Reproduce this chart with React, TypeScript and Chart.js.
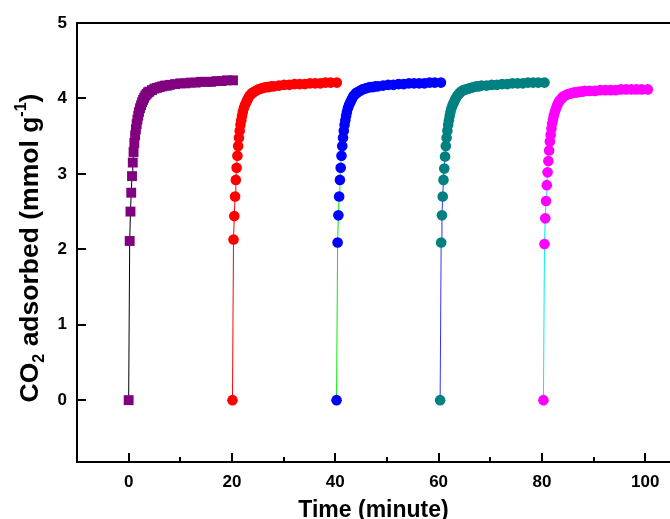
import React, { useEffect, useRef } from "react";
import { Chart, registerables } from "chart.js";

Chart.register(...registerables);

// Time within each adsorption cycle (minutes)
const cycleMinutes = [0, 0.2, 0.35, 0.5, 0.65, 0.8, 0.95, 1.1, 1.25, 1.4, 1.55, 1.7, 1.85, 2.0, 2.2, 2.4, 2.6, 2.8, 3.0, 3.25, 3.5, 3.75, 4.0, 4.5, 5, 5.5, 6, 6.5, 7, 7.5, 8, 9, 10, 11, 12, 13, 14, 15, 16, 17, 18, 19, 20.2];
// Start time of each cycle (minutes)
const cycleStarts = [0, 20.1, 40.25, 60.3, 80.3];

// CO2 adsorbed (mmol/g) per cycle
const cycle1 = [0, 2.11, 2.5, 2.75, 2.97, 3.15, 3.29, 3.41, 3.51, 3.59, 3.66, 3.72, 3.77, 3.82, 3.87, 3.91, 3.95, 3.98, 4.01, 4.04, 4.06, 4.08, 4.09, 4.11, 4.13, 4.14, 4.15, 4.16, 4.17, 4.17, 4.18, 4.19, 4.2, 4.2, 4.21, 4.21, 4.22, 4.22, 4.22, 4.23, 4.23, 4.24, 4.24];
const cycle2 = [0, 2.13, 2.44, 2.7, 2.92, 3.08, 3.24, 3.37, 3.48, 3.57, 3.65, 3.71, 3.77, 3.82, 3.87, 3.91, 3.94, 3.97, 4.0, 4.03, 4.05, 4.07, 4.08, 4.1, 4.12, 4.13, 4.14, 4.15, 4.15, 4.16, 4.16, 4.17, 4.18, 4.18, 4.19, 4.19, 4.19, 4.2, 4.2, 4.2, 4.21, 4.21, 4.21];
const cycle3 = [0, 2.09, 2.45, 2.7, 2.92, 3.08, 3.24, 3.37, 3.48, 3.57, 3.65, 3.71, 3.77, 3.82, 3.87, 3.91, 3.94, 3.97, 4.0, 4.03, 4.05, 4.07, 4.08, 4.1, 4.12, 4.13, 4.14, 4.15, 4.15, 4.16, 4.16, 4.17, 4.18, 4.18, 4.19, 4.19, 4.2, 4.2, 4.2, 4.2, 4.21, 4.21, 4.21];
const cycle4 = [0, 2.09, 2.45, 2.7, 2.92, 3.07, 3.23, 3.37, 3.48, 3.57, 3.65, 3.71, 3.77, 3.82, 3.87, 3.91, 3.94, 3.97, 4.0, 4.03, 4.05, 4.07, 4.09, 4.11, 4.12, 4.13, 4.14, 4.15, 4.16, 4.16, 4.17, 4.17, 4.18, 4.18, 4.19, 4.19, 4.2, 4.2, 4.2, 4.21, 4.21, 4.21, 4.21];
const cycle5 = [0, 2.07, 2.41, 2.64, 2.85, 3.02, 3.17, 3.31, 3.43, 3.52, 3.6, 3.67, 3.72, 3.77, 3.82, 3.86, 3.9, 3.93, 3.96, 3.98, 4.0, 4.02, 4.03, 4.05, 4.06, 4.07, 4.08, 4.08, 4.09, 4.09, 4.1, 4.1, 4.1, 4.11, 4.11, 4.11, 4.11, 4.12, 4.12, 4.12, 4.12, 4.12, 4.12];

const cycleValues = [cycle1, cycle2, cycle3, cycle4, cycle5];
const markerColors = ["#800080", "#ff0000", "#0000ff", "#008080", "#ff00ff"];
const lineColors = ["#000000", "#ff0000", "#00ee00", "#3333ff", "#00eeee"];
const markerStyles = ["rect", "circle", "circle", "circle", "circle"];
const markerRadius = [7, 5.3, 5.3, 5.3, 5.3];

const xMajorTicks = [0, 20, 40, 60, 80, 100];
const xMinorTicks = [10, 30, 50, 70, 90];
const yMajorTicks = [0, 1, 2, 3, 4, 5];

const FONT = "'Liberation Sans', Arial, Helvetica, sans-serif";

const framePlugin = {
  id: "frame",
  afterDatasetsDraw(chart: any) {
    const { ctx, chartArea } = chart;
    const xs = chart.scales.x;
    const ys = chart.scales.y;
    const { left, right, top, bottom } = chartArea;
    ctx.save();
    ctx.strokeStyle = "#000";
    ctx.lineWidth = 2;
    ctx.lineCap = "butt";
    // frame: left, bottom, top
    ctx.beginPath();
    ctx.moveTo(left, bottom);
    ctx.lineTo(right, bottom);
    ctx.moveTo(left, bottom + 1);
    ctx.lineTo(left, top - 1);
    ctx.moveTo(left, top);
    ctx.lineTo(right, top);
    ctx.stroke();
    // inward ticks
    ctx.beginPath();
    xMajorTicks.forEach((v) => {
      const px = Math.round(xs.getPixelForValue(v));
      ctx.moveTo(px, bottom);
      ctx.lineTo(px, bottom - 9);
    });
    xMinorTicks.forEach((v) => {
      const px = Math.round(xs.getPixelForValue(v));
      ctx.moveTo(px, bottom);
      ctx.lineTo(px, bottom - 5);
    });
    yMajorTicks.forEach((v) => {
      const py = Math.round(ys.getPixelForValue(v));
      ctx.moveTo(left, py);
      ctx.lineTo(left + 9, py);
    });
    ctx.stroke();

    // x title
    ctx.fillStyle = "#000";
    ctx.font = `bold 23px ${FONT}`;
    ctx.textAlign = "center";
    ctx.textBaseline = "alphabetic";
    ctx.fillText("Time (minute)", (left + right) / 2, 517);

    // y title, rotated, with sub/superscript
    const big = 26.5;
    const small = 16;
    const parts = [
      { t: "CO", s: big, dy: 0 },
      { t: "2", s: small, dy: 6 },
      { t: " adsorbed (mmol g", s: big, dy: 0 },
      { t: "-1", s: small, dy: -12 },
      { t: ")", s: big, dy: 0 },
    ];
    let total = 0;
    parts.forEach((p) => {
      ctx.font = `bold ${p.s}px ${FONT}`;
      total += ctx.measureText(p.t).width;
    });
    ctx.translate(37.5, 248);
    ctx.rotate(-Math.PI / 2);
    ctx.textAlign = "left";
    let x = -total / 2;
    parts.forEach((p) => {
      ctx.font = `bold ${p.s}px ${FONT}`;
      ctx.fillText(p.t, x, p.dy);
      x += ctx.measureText(p.t).width;
    });
    ctx.restore();
  },
};

export default function App() {
  const canvasRef = useRef<HTMLCanvasElement | null>(null);

  useEffect(() => {
    const canvas = canvasRef.current;
    if (!canvas) return;
    const datasets = cycleValues.map((vals, i) => ({
      label: `Cycle ${i + 1}`,
      data: vals.map((y, j) => ({ x: cycleStarts[i] + cycleMinutes[j], y })),
      borderColor: lineColors[i],
      borderWidth: 1,
      backgroundColor: markerColors[i],
      pointBackgroundColor: markerColors[i],
      pointBorderColor: markerColors[i],
      pointBorderWidth: 0,
      pointStyle: markerStyles[i],
      pointRadius: markerRadius[i],
      showLine: true,
      tension: 0,
      clip: false as any,
    }));

    const chart = new Chart(canvas, {
      type: "scatter",
      data: { datasets },
      plugins: [framePlugin],
      options: {
        animation: false,
        responsive: false,
        devicePixelRatio: 1,
        events: [],
        layout: { autoPadding: false, padding: { top: 23, right: 0, left: 0, bottom: 0 } },
        plugins: { legend: { display: false }, tooltip: { enabled: false }, title: { display: false } },
        scales: {
          x: {
            type: "linear",
            min: -10,
            max: 104.8,
            grid: { display: false, drawTicks: false },
            border: { display: false },
            afterBuildTicks: (scale: any) => {
              scale.ticks = xMajorTicks.map((v) => ({ value: v }));
            },
            afterFit: (scale: any) => {
              scale.height = 57;
              scale.paddingLeft = 0;
              scale.paddingRight = 0;
            },
            ticks: {
              color: "#000",
              font: { family: FONT, size: 17, weight: "bold" },
              padding: 10,
              maxRotation: 0,
              autoSkip: false,
            },
          },
          y: {
            type: "linear",
            min: -0.82,
            max: 5,
            grid: { display: false, drawTicks: false },
            border: { display: false },
            afterBuildTicks: (scale: any) => {
              scale.ticks = yMajorTicks.map((v) => ({ value: v }));
            },
            afterFit: (scale: any) => {
              scale.width = 77;
              scale.paddingTop = 0;
              scale.paddingBottom = 0;
            },
            ticks: {
              color: "#000",
              font: { family: FONT, size: 17, weight: "bold" },
              padding: 10,
              autoSkip: false,
            },
          },
        },
      },
    });
    return () => chart.destroy();
  }, []);

  return (
    <div style={{ position: "absolute", left: 0, top: 0, width: 670, height: 519, background: "#fff" }}>
      <canvas ref={canvasRef} width={670} height={519} style={{ width: 670, height: 519, display: "block" }} />
    </div>
  );
}
